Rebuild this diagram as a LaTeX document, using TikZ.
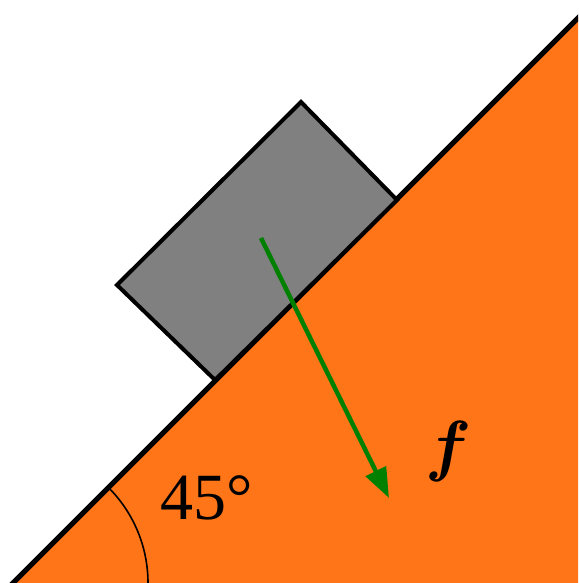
\RequirePackage{fix-cm}
\documentclass[tikz,border=0pt]{standalone}
\usepackage{bm}
\usepackage{fontspec}
\setmainfont{Liberation Serif}
\usetikzlibrary{arrows.meta}
\definecolor{slope}{HTML}{FF7518}
\definecolor{block}{HTML}{808080}
\definecolor{force}{HTML}{008000}

\begin{document}
\begin{tikzpicture}[x=1pt,y=1pt]
  \useasboundingbox (0,0) rectangle (578,583);
  \clip (0,0) rectangle (578,583);
  % incline
  \fill[slope] (13,0) -- (578,565) -- (578,0) -- cycle;
  \draw[line width=5pt] (8,-5) -- (583,570);
  \draw[line width=1.6pt] (148,0) arc[start angle=0,end angle=45,radius=135];
  % block on the incline
  \filldraw[block,draw=black,line width=4pt,line join=miter]
    (117,298) -- (301,481) -- (397,383) -- (215,203) -- cycle;
  \coordinate (blockc) at (261,345);
  \coordinate (tip) at (389,85);
  \draw[force,line width=4.5pt,-{Triangle[length=30pt,width=22pt]}] (blockc) -- (tip);
  \node[font=\fontsize{66}{72}\selectfont] (angle) at (207,85) {45°};
  \node[font=\fontsize{68}{76}\selectfont] (flabel) at (449,131) {$\bm{f}$};
\end{tikzpicture}
\end{document}
